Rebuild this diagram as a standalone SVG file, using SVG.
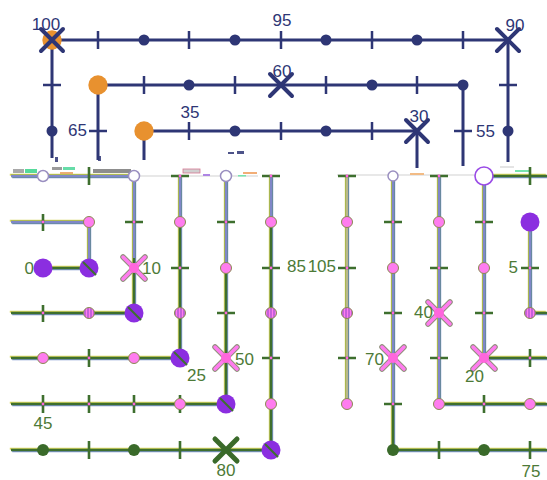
<svg xmlns="http://www.w3.org/2000/svg" xmlns:xlink="http://www.w3.org/1999/xlink" width="547" height="480" viewBox="0 0 547 480">
  <style>
    .nv { fill: none; stroke: #2e3675; stroke-width: 3; }
    .nvt { stroke: #2e3675; stroke-width: 2.5; }
    .nvd { fill: #2e3675; }
    .nvx { stroke: #2e3675; stroke-width: 4; stroke-linecap: round; }
    .org { fill: #e8912f; }
    .nlab { font-family: "Liberation Sans", Arial, sans-serif; font-size: 17px; fill: #2e3675; }
    .glab { font-family: "Liberation Sans", Arial, sans-serif; font-size: 17px; fill: #4d7a37; }
    .gy { fill: none; stroke: #d8d660; stroke-width: 2; }
    .gb { fill: none; stroke: #7c94d0; stroke-width: 2; }
    .gg { fill: none; stroke: #3e6f2e; stroke-width: 2.6; }
    .gu { fill: none; stroke: #7f87c8; stroke-width: 2; }
    .gt { stroke: #3e6f2e; stroke-width: 2.6; }
    .tc { fill: #ff66dd; }
    .pk { fill: #ff7cef; stroke: #8a8a50; stroke-width: 1; }
    .ht { fill: url(#hatch); stroke: #8a8a50; stroke-width: 1; }
    .pu { fill: #8b2ee0; }
    .pus { stroke: #3e6f2e; stroke-width: 2; }
    .wh { fill: #ffffff; stroke: #9a8fc0; stroke-width: 1.5; }
    .gd { fill: #3a6a2a; }
    .xo { stroke: #8f8f7a; stroke-width: 5.5; stroke-linecap: round; }
    .xi { stroke: #ff7cef; stroke-width: 3.5; stroke-linecap: round; }
  </style>
  <defs>
    <pattern id="hatch" width="3" height="3" patternUnits="userSpaceOnUse">
      <rect width="3" height="3" fill="#ff7cef"/>
      <line x1="1" y1="0" x2="1" y2="3" stroke="#8b45c8" stroke-width="1"/>
    </pattern>
    <!-- green network paths -->
    <path id="p1" d="M11,222 H89 V268 H43"/>
    <path id="p2" d="M134,176 V313 H11"/>
    <path id="p3" d="M180,176 V358 H11"/>
    <path id="p4" d="M226,176 V404 H11"/>
    <path id="p5" d="M271,176 V450 H11"/>
    <path id="p6" d="M11,176 H134"/>
    <path id="p7" d="M347,176 V404"/>
    <path id="p8" d="M393,176 V450 H547"/>
    <path id="p9" d="M439,176 V404 H547"/>
    <path id="p10" d="M484,176 V358 H547"/>
    <path id="p11" d="M530,222 V313 H547"/>
    <path id="p12" d="M484,176 H547"/>
  </defs>

  <!-- connectors -->
  <g id="connectors">
    <!-- navy network -->
    <path class="nv" d="M52,158 V40 H508 V162"/>
    <path class="nv" d="M98,160 V85 H463 V166"/>
    <path class="nv" d="M144,160 V131 H417 V168"/>
    <!-- green network: fringe layers, then core -->
    <g transform="translate(-1.2,-1.2)">
      <use xlink:href="#p1" class="gy"/><use xlink:href="#p2" class="gy"/><use xlink:href="#p3" class="gy"/>
      <use xlink:href="#p4" class="gy"/><use xlink:href="#p5" class="gy"/><use xlink:href="#p6" class="gy"/>
      <use xlink:href="#p7" class="gy"/><use xlink:href="#p8" class="gy"/><use xlink:href="#p9" class="gy"/>
      <use xlink:href="#p10" class="gy"/><use xlink:href="#p11" class="gy"/><use xlink:href="#p12" class="gy"/>
    </g>
    <g transform="translate(1.2,1.2)">
      <use xlink:href="#p1" class="gb"/><use xlink:href="#p2" class="gb"/><use xlink:href="#p3" class="gb"/>
      <use xlink:href="#p4" class="gb"/><use xlink:href="#p5" class="gb"/><use xlink:href="#p6" class="gb"/>
      <use xlink:href="#p7" class="gb"/><use xlink:href="#p8" class="gb"/><use xlink:href="#p9" class="gb"/>
      <use xlink:href="#p10" class="gb"/><use xlink:href="#p11" class="gb"/><use xlink:href="#p12" class="gb"/>
    </g>
    <g>
      <use xlink:href="#p1" class="gg"/><use xlink:href="#p2" class="gg"/><use xlink:href="#p3" class="gg"/>
      <use xlink:href="#p4" class="gg"/><use xlink:href="#p5" class="gg"/><use xlink:href="#p6" class="gg"/>
      <use xlink:href="#p7" class="gg"/><use xlink:href="#p8" class="gg"/><use xlink:href="#p9" class="gg"/>
      <use xlink:href="#p10" class="gg"/><use xlink:href="#p11" class="gg"/><use xlink:href="#p12" class="gg"/>
    </g>
    <!-- bluish upper runs -->
    <path class="gu" d="M11,176 H134 M11,222 H89 V262 M134,176 V258 M180,176 V222 M226,176 V262 M271,176 V222 M393,176 V404 M439,176 V404 M484,176 V358 M530,230 V313"/>
    <path fill="none" stroke="#b8b88a" stroke-width="2" d="M347,176 V404"/>
    <!-- broken band -->
    <g opacity="0.85">
      <path fill="none" stroke="#c9c9c9" stroke-width="1.2" d="M134,176 H258 M337,175 H480"/>
      <rect x="13" y="169" width="11" height="4" fill="#9a9a9a"/>
      <rect x="25" y="169" width="12" height="4" fill="#39d48a"/>
      <rect x="52" y="167" width="10" height="3" fill="#8a8a8a"/>
      <rect x="63" y="167" width="12" height="3" fill="#4cd69a"/>
      <rect x="60" y="172" width="13" height="2" fill="#e8a060"/>
      <rect x="93" y="169" width="38" height="4" fill="#7a7a7a"/>
      <rect x="183" y="169" width="17" height="4" fill="#c8c8c8" stroke="#d06080" stroke-width="0.8"/>
      <rect x="203" y="174" width="7" height="2" fill="#a070e0"/>
      <rect x="243" y="172" width="14" height="2" fill="#f0a060"/>
      <rect x="238" y="175" width="8" height="1.5" fill="#60e0a0"/>
      <rect x="410" y="173" width="14" height="2" fill="#f0b070"/>
      <rect x="500" y="166" width="14" height="2" fill="#e0e0e0"/>
      <rect x="515" y="170" width="14" height="2" fill="#60e0a0"/>
      <rect x="228" y="152" width="6" height="2" fill="#2e3675"/>
      <rect x="237" y="151" width="7" height="3" fill="#2e3675"/>
      <rect x="55" y="157" width="3" height="5" fill="#2e3675"/>
      <rect x="98" y="156" width="3" height="5" fill="#2e3675"/>
    </g>
  </g>

  <!-- navy network stations -->
  <g id="station-100">
    <circle class="org" cx="52" cy="40" r="9.7"/>
    <path class="nvx" d="M41,29 L63,51 M63,29 L41,51"/>
    <text class="nlab" x="46" y="30" text-anchor="middle">100</text>
  </g>
  <g id="station-95">
    <line class="nvt" x1="281" y1="31" x2="281" y2="49"/>
    <text class="nlab" x="282" y="26" text-anchor="middle">95</text>
  </g>
  <g id="station-90">
    <path class="nvx" d="M497,29 L519,51 M519,29 L497,51"/>
    <text class="nlab" x="515" y="31" text-anchor="middle">90</text>
  </g>
  <g id="station-60">
    <path class="nvx" d="M270,74 L292,96 M292,74 L270,96"/>
    <text class="nlab" x="282" y="77" text-anchor="middle">60</text>
  </g>
  <g id="station-35">
    <line class="nvt" x1="189" y1="122" x2="189" y2="140"/>
    <text class="nlab" x="190" y="118" text-anchor="middle">35</text>
  </g>
  <g id="station-30">
    <path class="nvx" d="M406,120 L428,142 M428,120 L406,142"/>
    <text class="nlab" x="419" y="122" text-anchor="middle">30</text>
  </g>
  <g id="station-65">
    <line class="nvt" x1="89" y1="131" x2="107" y2="131"/>
    <text class="nlab" x="87" y="136" text-anchor="end">65</text>
  </g>
  <g id="station-55">
    <line class="nvt" x1="454" y1="131" x2="472" y2="131"/>
    <text class="nlab" x="476" y="137">55</text>
  </g>
  <g id="navy-stops">
    <circle class="org" cx="98" cy="85" r="9.7"/>
    <circle class="org" cx="144" cy="131" r="9.7"/>
    <path class="nvt" d="M98,31 V49 M189,31 V49 M372,31 V49 M463,31 V49 M43,85 H61 M499,85 H517 M144,76 V94 M235,76 V94 M326,76 V94 M417,76 V94 M281,122 V140 M372,122 V140"/>
    <circle class="nvd" cx="144" cy="40" r="5.5"/>
    <circle class="nvd" cx="235" cy="40" r="5.5"/>
    <circle class="nvd" cx="326" cy="40" r="5.5"/>
    <circle class="nvd" cx="417" cy="40" r="5.5"/>
    <circle class="nvd" cx="189" cy="85" r="5.5"/>
    <circle class="nvd" cx="372" cy="85" r="5.5"/>
    <circle class="nvd" cx="463" cy="85" r="5.5"/>
    <circle class="nvd" cx="52" cy="131" r="5.5"/>
    <circle class="nvd" cx="235" cy="131" r="5.5"/>
    <circle class="nvd" cx="326" cy="131" r="5.5"/>
    <circle class="nvd" cx="508" cy="131" r="5.5"/>
  </g>

  <!-- green network ticks -->
  <g id="green-ticks">
    <path class="gt" d="M43,214 V231 M43,305 V322 M89,395 V413 M180,395 V413 M89,441 V459 M180,441 V459 M43,395 V413 M134,395 V413 M89,349 V367 M89,167 V185
      M125,222 H143 M171,268 H189 M217,222 H235 M217,313 H235 M262,268 H280 M262,358 H280 M171,176 H189 M262,176 H280
      M338,176 H356 M338,268 H356 M338,358 H356 M384,222 H402 M384,313 H402 M384,404 H402 M430,176 H448 M430,268 H448 M430,358 H448
      M475,222 H493 M475,313 H493 M521,268 H539 M439,441 V459 M530,441 V459 M484,395 V413 M530,349 V367 M530,167 V185"/>
    <g class="tc">
      <circle cx="43" cy="222" r="1.4"/><circle cx="43" cy="313" r="1.4"/><circle cx="89" cy="404" r="1.4"/>
      <circle cx="43" cy="404" r="1.4"/><circle cx="134" cy="404" r="1.4"/><circle cx="89" cy="358" r="1.4"/>
      <circle cx="134" cy="222" r="1.4"/><circle cx="180" cy="268" r="1.4"/><circle cx="226" cy="222" r="1.4"/>
      <circle cx="226" cy="313" r="1.4"/><circle cx="271" cy="268" r="1.4"/><circle cx="271" cy="358" r="1.4"/>
      <circle cx="347" cy="268" r="1.4"/><circle cx="347" cy="358" r="1.4"/><circle cx="393" cy="222" r="1.4"/>
      <circle cx="393" cy="313" r="1.4"/><circle cx="393" cy="404" r="1.4"/><circle cx="439" cy="268" r="1.4"/>
      <circle cx="439" cy="358" r="1.4"/><circle cx="484" cy="222" r="1.4"/><circle cx="484" cy="313" r="1.4"/>
      <circle cx="530" cy="268" r="1.4"/><circle cx="484" cy="404" r="1.4"/><circle cx="530" cy="358" r="1.4"/>
      <circle cx="180" cy="176" r="1.4"/><circle cx="271" cy="176" r="1.4"/><circle cx="347" cy="176" r="1.4"/><circle cx="439" cy="176" r="1.4"/>
    </g>
  </g>

  <!-- green network stations -->
  <g id="green-stops">
    <circle class="wh" cx="43" cy="176" r="5.5"/>
    <circle class="wh" cx="134" cy="176" r="5.5"/>
    <circle class="wh" cx="226" cy="176" r="5.5"/>
    <circle class="wh" cx="393" cy="176" r="5"/>
    <circle cx="484" cy="176" r="9" fill="#ffffff" stroke="#9a4be6" stroke-width="1.6"/>
    <circle class="pk" cx="89" cy="222" r="5.5"/>
    <circle class="pk" cx="180" cy="222" r="5.5"/>
    <circle class="pk" cx="271" cy="222" r="5.5"/>
    <circle class="pk" cx="347" cy="222" r="5.5"/>
    <circle class="pk" cx="439" cy="222" r="5.5"/>
    <circle class="pk" cx="226" cy="268" r="5.5"/>
    <circle class="pk" cx="393" cy="268" r="5.5"/>
    <circle class="pk" cx="484" cy="268" r="5.5"/>
    <circle class="pk" cx="43" cy="358" r="5.5"/>
    <circle class="pk" cx="134" cy="358" r="5.5"/>
    <circle class="pk" cx="180" cy="404" r="5.5"/>
    <circle class="pk" cx="271" cy="404" r="5.5"/>
    <circle class="pk" cx="347" cy="404" r="5.5"/>
    <circle class="pk" cx="439" cy="404" r="5.5"/>
    <circle class="pk" cx="530" cy="404" r="5.5"/>
    <circle class="ht" cx="89" cy="313" r="5.5"/>
    <circle class="ht" cx="180" cy="313" r="5.5"/>
    <circle class="ht" cx="271" cy="313" r="5.5"/>
    <circle class="ht" cx="347" cy="313" r="5.5"/>
    <circle class="ht" cx="530" cy="313" r="5.5"/>
    <circle class="gd" cx="43" cy="450" r="6"/>
    <circle class="gd" cx="134" cy="450" r="6"/>
    <circle class="gd" cx="393" cy="450" r="6"/>
    <circle class="gd" cx="484" cy="450" r="6"/>
  </g>
  <g id="interchanges">
    <circle class="pu" cx="89" cy="268" r="9.5"/><line class="pus" x1="83" y1="262" x2="96" y2="275"/>
    <circle class="pu" cx="134" cy="313" r="9.5"/><line class="pus" x1="128" y1="307" x2="141" y2="320"/>
    <circle class="pu" cx="180" cy="358" r="9.5"/><line class="pus" x1="174" y1="352" x2="187" y2="365"/>
    <circle class="pu" cx="226" cy="404" r="9.5"/><line class="pus" x1="220" y1="398" x2="233" y2="411"/>
    <circle class="pu" cx="271" cy="450" r="9.5"/><line class="pus" x1="265" y1="444" x2="278" y2="457"/>
    <circle class="pu" cx="530" cy="222" r="9.5"/>
  </g>
  <g id="station-0">
    <circle class="pu" cx="43" cy="268" r="9.5"/>
    <text class="glab" x="34" y="274" text-anchor="end">0</text>
  </g>
  <g id="station-10">
    <path class="xo" d="M123,257 L145,279 M145,257 L123,279"/>
    <path class="xi" d="M123,257 L145,279 M145,257 L123,279"/>
    <circle class="tc" cx="134" cy="268" r="5"/>
    <text class="glab" x="142" y="274">10</text>
  </g>
  <g id="station-85">
    <text class="glab" x="287" y="272">85</text>
  </g>
  <g id="station-105">
    <text class="glab" x="336" y="272" text-anchor="end">105</text>
  </g>
  <g id="station-5">
    <text class="glab" x="518" y="273" text-anchor="end">5</text>
  </g>
  <g id="station-40">
    <path class="xo" d="M428,302 L450,324 M450,302 L428,324"/>
    <path class="xi" d="M428,302 L450,324 M450,302 L428,324"/>
    <circle class="tc" cx="439" cy="313" r="5"/>
    <text class="glab" x="433" y="318" text-anchor="end">40</text>
  </g>
  <g id="station-50">
    <path class="xo" d="M215,347 L237,369 M237,347 L215,369"/>
    <path class="xi" d="M215,347 L237,369 M237,347 L215,369"/>
    <circle class="tc" cx="226" cy="358" r="5"/>
    <text class="glab" x="235" y="365">50</text>
  </g>
  <g id="station-25">
    <text class="glab" x="187" y="381">25</text>
  </g>
  <g id="station-70">
    <path class="xo" d="M382,347 L404,369 M404,347 L382,369"/>
    <path class="xi" d="M382,347 L404,369 M404,347 L382,369"/>
    <circle class="tc" cx="393" cy="358" r="5"/>
    <text class="glab" x="384" y="365" text-anchor="end">70</text>
  </g>
  <g id="station-20">
    <path class="xo" d="M473,347 L495,369 M495,347 L473,369"/>
    <path class="xi" d="M473,347 L495,369 M495,347 L473,369"/>
    <circle class="tc" cx="484" cy="358" r="5"/>
    <text class="glab" x="465" y="382">20</text>
  </g>
  <g id="station-45">
    <text class="glab" x="43" y="429" text-anchor="middle">45</text>
  </g>
  <g id="station-80">
    <path stroke="#3a6a2a" stroke-width="5" stroke-linecap="round" d="M215,439 L237,461 M237,439 L215,461"/>
    <text class="glab" x="226" y="476" text-anchor="middle">80</text>
  </g>
  <g id="station-75">
    <text class="glab" x="531" y="477" text-anchor="middle">75</text>
  </g>
</svg>
